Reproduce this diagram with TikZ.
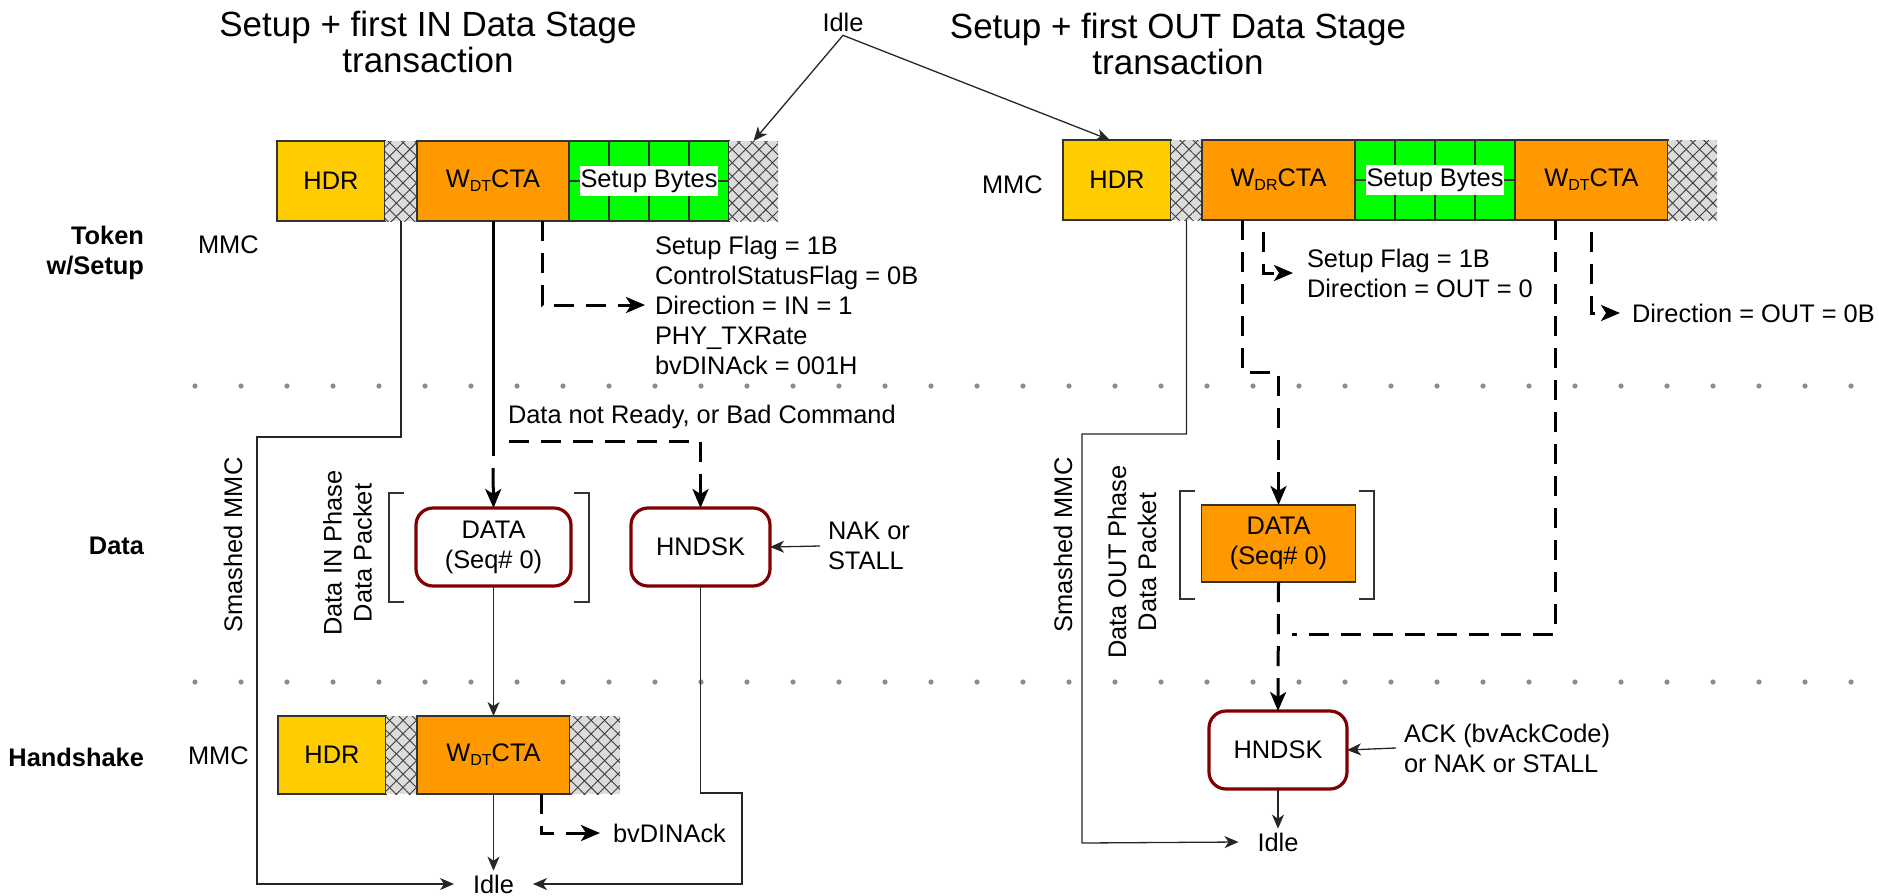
\documentclass[tikz,border=0pt]{standalone}
\usepackage{fontspec}
\setmainfont{Liberation Sans}
\usetikzlibrary{arrows.meta,patterns.meta,calc}

\definecolor{hdrcol}{HTML}{FFCC00}
\definecolor{ctacol}{HTML}{FF9900}
\definecolor{sbcol}{HTML}{00FF00}
\definecolor{hatchbg}{HTML}{DCDCDC}
\definecolor{hatchln}{HTML}{3C3C3C}
\definecolor{seglc}{HTML}{333333}
\definecolor{pktred}{HTML}{800000}
\definecolor{dotc}{HTML}{8C8C8C}

\newcommand\lbl{\fontsize{25.4}{30}\selectfont}
\newcommand\ttl{\fontsize{35}{36.5}\selectfont}
\newcommand\sbx[1]{\raisebox{-0.3ex}{\fontsize{16}{16}\selectfont #1}}

\begin{document}
\begin{tikzpicture}[x=1pt,y=-1pt,
  every node/.style={font=\lbl, inner sep=0pt, outer sep=0pt},
  seg/.style={draw=seglc, line width=1.1pt, anchor=north west, minimum height=80pt},
  hatch/.style={anchor=north west, minimum height=80pt, fill=hatchbg,
    postaction={pattern={Lines[angle=45,distance=9.5pt,line width=0.9pt]}, pattern color=hatchln},
    postaction={pattern={Lines[angle=-45,distance=9.5pt,line width=0.9pt]}, pattern color=hatchln}},
  gridln/.style={draw=seglc, line width=1.1pt},
  sblabel/.style={fill=white, inner xsep=1pt, minimum height=30pt},
  rbox/.style={draw=pktred, line width=3.2pt, rounded corners=17pt, fill=white,
    minimum height=78pt, align=center},
  idle/.style={inner xsep=19pt, inner ysep=4pt},
  thinln/.style={draw=black!85, line width=1.3pt},
  thinarr/.style={thinln, -{Stealth[length=14pt,width=12pt,inset=4pt]}},
  thickln/.style={draw=black, line width=3pt},
  dashln/.style={draw=black, line width=3pt, dash pattern=on 20pt off 12pt},
  dasharr/.style={dashln, -{Stealth[length=19pt,width=16pt,inset=5pt]}},
  thickarr/.style={thickln, -{Stealth[length=19pt,width=16pt,inset=5pt]}},
  brk/.style={draw=black!80, line width=1.3pt},
  rowlbl/.style={font=\lbl\bfseries, anchor=east, align=right}
]
\useasboundingbox (0,0) rectangle (1879,895);

% dotted row separators
\foreach \k in {0,...,36}{
  \fill[dotc] ({195+46*\k},386) circle[radius=2.6pt];
  \fill[dotc] ({195+46*\k},682) circle[radius=2.6pt];
}

% titles
\node[font=\ttl, align=center] (ttlin) at (428,42) {Setup + first IN Data Stage\\transaction};
\node[font=\ttl, align=center] (ttlout) at (1178,44) {Setup + first OUT Data Stage\\transaction};

% row labels
\node[rowlbl] (rowtok) at (144,253) {Token\\w/Setup};
\node[rowlbl] (rowdat) at (144,546) {Data};
\node[rowlbl] (rowhsk) at (144,757) {Handshake};

\node[anchor=west] (mmca) at (198,245) {MMC};
\node[anchor=west] (mmcb) at (982,185) {MMC};
\node[anchor=west] (mmcc) at (188,756) {MMC};

% ---- IN transaction: token packet
\node[seg, fill=hdrcol, minimum width=108pt] (a_hdr) at (277,141) {HDR};
\node[hatch, minimum width=32pt] (a_h1) at (385,141) {};
\node[seg, fill=ctacol, minimum width=152pt] (a_cta) at (417,141) {W\sbx{DT}CTA};
\node[seg, fill=sbcol, minimum width=160pt] (a_sb) at (569,141) {};
\node[hatch, minimum width=49pt] (a_h2) at (729,141) {};
\foreach \f in {0.25,0.5,0.75}
  \draw[gridln] ($(a_sb.north west)!\f!(a_sb.north east)$) -- ($(a_sb.south west)!\f!(a_sb.south east)$);
\draw[gridln] (a_sb.west) -- (a_sb.east);
\node[sblabel] (a_sbl) at (a_sb.center) {Setup Bytes};

\node[anchor=west, align=left, inner xsep=10pt] (a_info) at (645,305)
  {Setup Flag = 1B\\ControlStatusFlag = 0B\\Direction = IN = 1\\PHY\_TXRate\\bvDINAck = 001H};

% ---- IN transaction: data stage
\node[rbox, minimum width=155pt] (a_data) at (493.5,547) {DATA\\(Seq\# 0)};
\node[rbox, minimum width=139pt] (a_hsk) at (700.5,547) {HNDSK};
\node[anchor=west, align=left, inner xsep=8pt] (a_nak) at (820,546) {NAK or\\STALL};
\node[anchor=west] (a_dnr) at (508,417) {Data not Ready, or Bad Command};
\node[rotate=90] (a_smash) at (233,545) {Smashed MMC};
\node[rotate=90, align=center] (a_phase) at (347.5,553) {Data IN Phase\\Data Packet};
\draw[brk] (404,493) -- (389,493) -- (389,602) -- (404,602);
\draw[brk] (574,493) -- (589,493) -- (589,602) -- (574,602);

% ---- IN transaction: handshake
\node[seg, fill=hdrcol, minimum width=108pt, minimum height=78pt] (c_hdr) at (278,716) {HDR};
\node[hatch, minimum width=31pt, minimum height=78pt] (c_h1) at (386,716) {};
\node[seg, fill=ctacol, minimum width=153pt, minimum height=78pt] (c_cta) at (417,716) {W\sbx{DT}CTA};
\node[hatch, minimum width=50pt, minimum height=78pt] (c_h2) at (570,716) {};
\node[anchor=west, inner xsep=13pt] (c_ack) at (600,833) {bvDINAck};
\node[idle] (a_idle) at (493.5,884) {Idle};

% ---- OUT transaction: token packet
\node[seg, fill=hdrcol, minimum width=108pt] (b_hdr) at (1063,140) {HDR};
\node[hatch, minimum width=31pt] (b_h1) at (1171,140) {};
\node[seg, fill=ctacol, minimum width=153pt] (b_cdr) at (1202,140) {W\sbx{DR}CTA};
\node[seg, fill=sbcol, minimum width=160pt] (b_sb) at (1355,140) {};
\node[seg, fill=ctacol, minimum width=153pt] (b_cdt) at (1515,140) {W\sbx{DT}CTA};
\node[hatch, minimum width=49pt] (b_h2) at (1668,140) {};
\foreach \f in {0.25,0.5,0.75}
  \draw[gridln] ($(b_sb.north west)!\f!(b_sb.north east)$) -- ($(b_sb.south west)!\f!(b_sb.south east)$);
\draw[gridln] (b_sb.west) -- (b_sb.east);
\node[sblabel] (b_sbl) at (b_sb.center) {Setup Bytes};

\node[anchor=west, align=left, inner xsep=14pt] (b_info1) at (1293,273) {Setup Flag = 1B\\Direction = OUT = 0};
\node[anchor=west, inner xsep=12pt] (b_info2) at (1620,313) {Direction = OUT = 0B};

% ---- OUT transaction: data stage and handshake
\node[draw=seglc, line width=1.2pt, fill=ctacol, minimum width=154pt, minimum height=77pt, align=center]
  (b_data) at (1278.5,543.5) {DATA\\(Seq\# 0)};
\node[rotate=90] (b_smash) at (1063,545) {Smashed MMC};
\node[rotate=90, align=center] (b_phase) at (1132,562) {Data OUT Phase\\Data Packet};
\draw[brk] (1195,491) -- (1180,491) -- (1180,599) -- (1195,599);
\draw[brk] (1359,491) -- (1374,491) -- (1374,599) -- (1359,599);
\node[rbox, minimum width=138pt] (b_hsk) at (1278,750) {HNDSK};
\node[anchor=west, align=left, inner xsep=8pt] (b_ack) at (1396,748) {ACK (bvAckCode)\\or NAK or STALL};
\node[idle] (b_idle) at (1278,842) {Idle};

% ---- start point
\node[idle] (idletop) at (843,22) {Idle};
\draw[thinarr] (idletop.south) -- (a_h2.north);
\draw[thinarr] (idletop.south) -- ([xshift=-7pt]b_hdr.north);

% ---- IN connectors
\coordinate (a_brk) at (493,456);
\coordinate (a_brk2) at (493,468);
\coordinate (a_br) at (509,441);
\draw[thickln] (a_cta.south) -- (a_brk);
\draw[thickarr] (a_brk2) -- (a_data.north);
\draw[dasharr] (a_br) -| (a_hsk.north);
\draw[dasharr] ([xshift=49pt]a_cta.south) |- (a_info.west);
\draw[thinarr] (a_nak.west) -- (a_hsk.east);
\draw[thinarr] (a_data.south) -- (c_cta.north);
\draw[thinarr] (c_cta.south) -- (a_idle.north);
\draw[dasharr] ([xshift=47.5pt]c_cta.south) |- (c_ack.west);
\draw[thinarr] (a_h1.south) -- ++(0,216) -| (257,884) -- (a_idle.west);
\draw[thinarr] (a_hsk.south) -- ++(0,207) -| (742,884) -- (a_idle.east);

% ---- OUT connectors
\coordinate (b_jog) at (1278.5,372);
\coordinate (b_join) at (1292,634);
\draw[dasharr, dash phase=20pt] ([xshift=-15.5pt]b_cdr.south) |- (b_info1.west);
\draw[dasharr, dash phase=20pt] (b_cdt.south) |- (b_info2.west);
\draw[dasharr] ([xshift=-36.5pt]b_cdr.south) |- (b_jog) -- (b_data.north);
\draw[dasharr] (b_data.south) -- (b_hsk.north);
\draw[dashln] ([xshift=-36.5pt]b_cdt.south) |- (b_join);
\draw[thinarr] (b_ack.west) -- (b_hsk.east);
\draw[thinarr] (b_hsk.south) -- (b_idle.north);
\draw[thinarr] (b_h1.south) -- ++(0,214) -| (1082,843) -- (b_idle.west);
\end{tikzpicture}
\end{document}
